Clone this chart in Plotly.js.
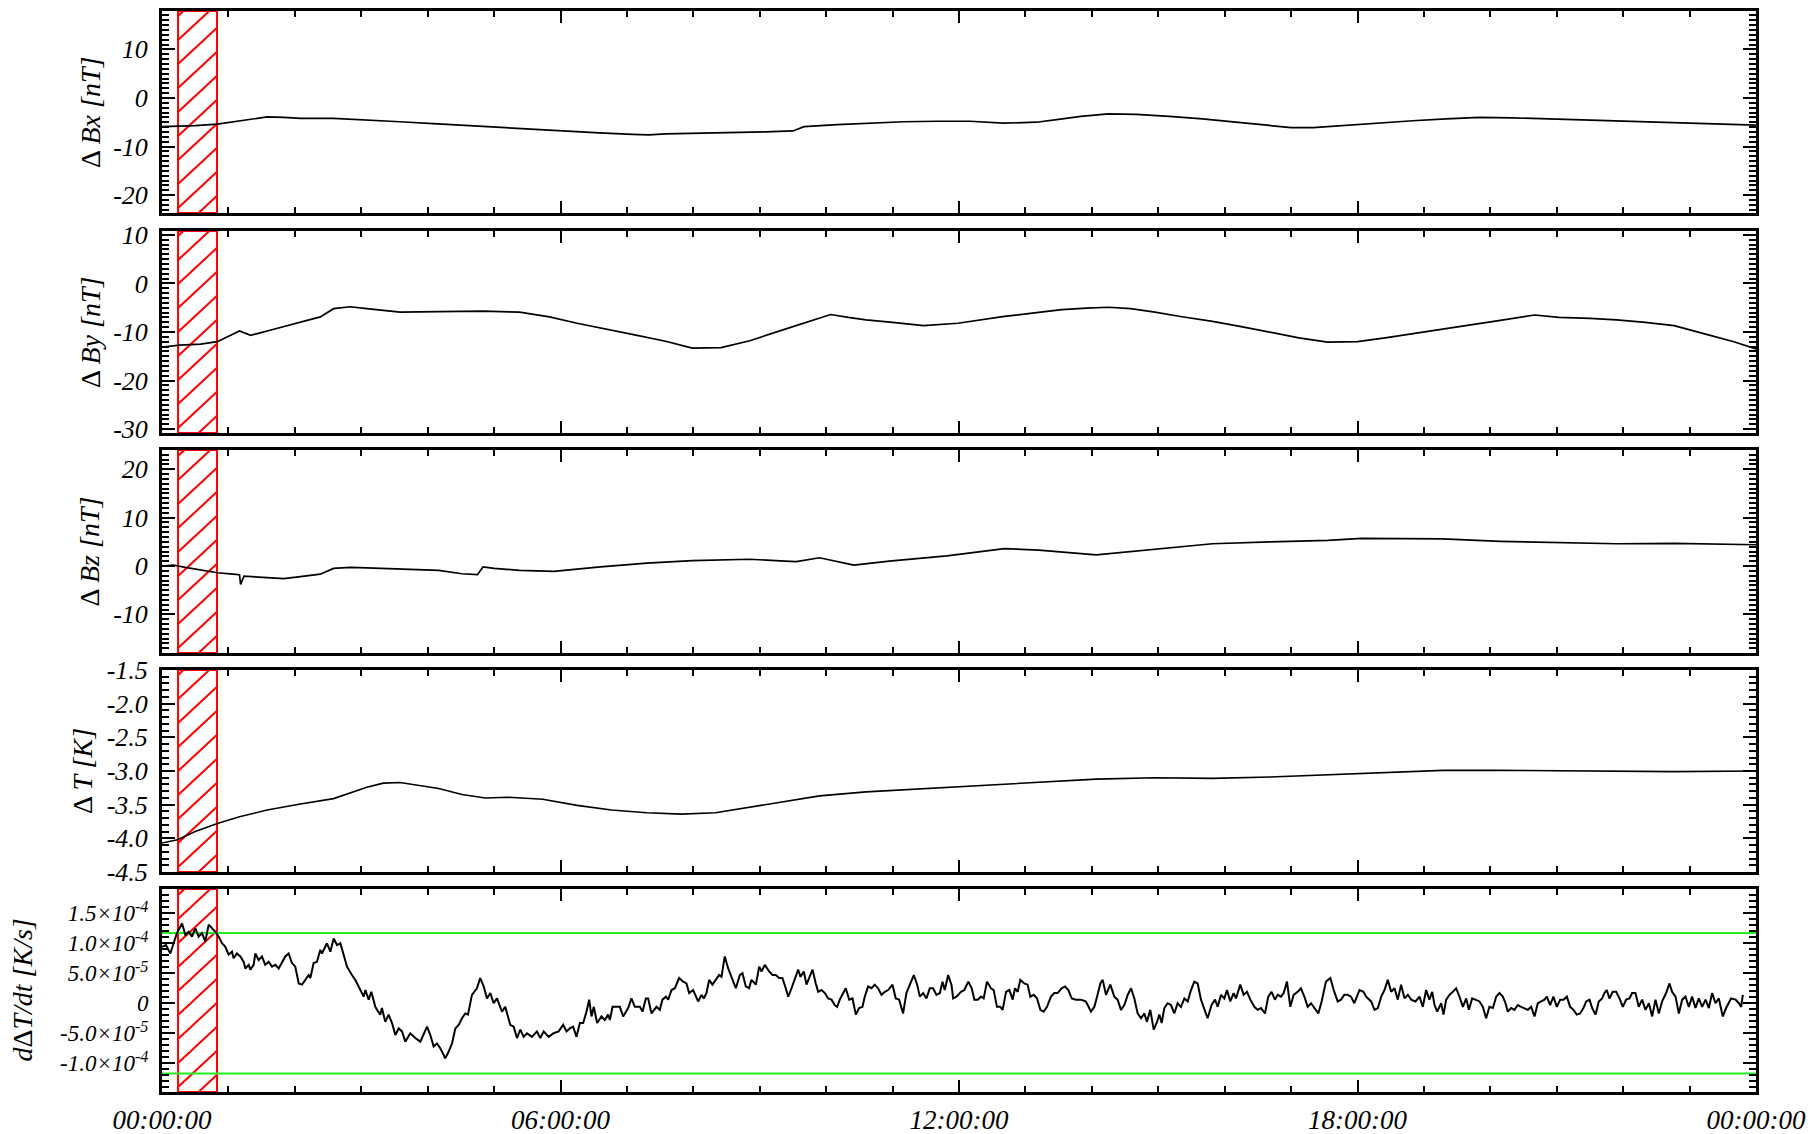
<!DOCTYPE html>
<html>
<head>
<meta charset="utf-8">
<script src="https://cdn.plot.ly/plotly-3.0.1.min.js"></script>
<style>
  html, body { margin: 0; padding: 0; background: #ffffff; }
  #chart { width: 1810px; height: 1134px; }
</style>
</head>
<body>
<div id="chart"></div>
<script>
// ---------------- DATA (time in minutes of day) ----------------
const xTickVals = [0, 360, 720, 1080, 1440];
const xTickText = ['00:00:00', '06:00:00', '12:00:00', '18:00:00', '00:00:00'];

// highlighted (hatched) time window [start, end] in minutes
const hatchWindow = [14.5, 49.7];

// thresholds for dT/dt (units of 1e-5 K/s)
const thresholds = [11.7, -11.7];

// Delta Bx [nT]
const bxT = [0,15,30,50,65,80,95,110,125,155,185,215,245,275,305,335,365,395,425,440,455,485,515,545,570,580,610,640,670,700,730,760,790,810,830,855,880,910,940,970,1000,1020,1040,1070,1100,1130,1160,1190,1220,1250,1280,1310,1340,1370,1400,1440];
const bxV = [-5.9,-5.8,-5.7,-5.4,-4.9,-4.4,-3.9,-4.0,-4.2,-4.2,-4.5,-4.9,-5.3,-5.7,-6.1,-6.5,-6.9,-7.2,-7.5,-7.6,-7.4,-7.3,-7.2,-7.0,-6.8,-5.9,-5.5,-5.2,-4.9,-4.8,-4.8,-5.2,-5.0,-4.4,-3.8,-3.3,-3.4,-3.8,-4.3,-5.0,-5.7,-6.1,-6.1,-5.6,-5.1,-4.7,-4.3,-4.0,-4.1,-4.3,-4.5,-4.7,-4.9,-5.1,-5.3,-5.6];
const bxTickVals = [10, 0, -10, -20];
const bxTickText = ['10', '0', '-10', '-20'];

// Delta By [nT]
const byT = [0,16,35,50,70,80,95,115,130,143,155,170,185,215,250,290,323,350,375,400,427,455,479,505,531,563,594,604,620,636,660,688,719,740,761,790,813,835,855,875,897,920,949,975,1001,1027,1053,1080,1105,1130,1157,1183,1209,1240,1262,1290,1314,1340,1366,1397,1420,1440];
const byV = [-13.1,-12.7,-12.5,-12.0,-9.8,-10.7,-9.8,-8.6,-7.6,-6.9,-5.2,-4.8,-5.2,-5.9,-5.8,-5.7,-5.9,-6.9,-8.2,-9.3,-10.6,-11.9,-13.3,-13.2,-11.8,-9.4,-7.2,-6.4,-7.0,-7.5,-8.0,-8.7,-8.2,-7.5,-6.8,-6.0,-5.4,-5.1,-4.9,-5.2,-5.9,-6.8,-7.8,-8.9,-10.1,-11.2,-12.1,-12.0,-11.2,-10.3,-9.4,-8.5,-7.6,-6.5,-7.0,-7.2,-7.5,-8.0,-8.7,-10.6,-12.0,-13.5];
const byTickVals = [10, 0, -10, -20, -30];
const byTickText = ['10', '0', '-10', '-20', '-30'];

// Delta Bz [nT]
const bzT = [0,10,21,33,50,64,70,71,74,95,110,125,143,155,170,185,215,250,271,285,290,300,323,354,396,438,479,531,563,573,594,625,657,709,761,792,844,897,949,1001,1053,1084,1157,1209,1262,1314,1366,1440];
const bzV = [0.0,0.2,-0.3,-0.8,-1.4,-1.7,-1.8,-3.8,-2.1,-2.4,-2.6,-2.2,-1.7,-0.5,-0.3,-0.4,-0.6,-0.9,-1.6,-1.8,-0.2,-0.5,-0.9,-1.1,-0.2,0.6,1.1,1.4,1.0,0.9,1.7,0.2,1.0,2.1,3.6,3.3,2.3,3.5,4.6,5.0,5.3,5.7,5.6,5.1,4.8,4.6,4.7,4.4];
const bzTickVals = [20, 10, 0, -10];
const bzTickText = ['20', '10', '0', '-10'];

// Delta T [K]
const tT = [0,14,30,50,70,95,125,155,185,200,215,250,271,292,313,344,375,406,438,469,500,531,563,594,636,688,740,792,844,897,949,1001,1053,1105,1157,1209,1262,1314,1366,1440];
const tV = [-4.07,-4.02,-3.90,-3.78,-3.68,-3.58,-3.49,-3.41,-3.24,-3.18,-3.17,-3.26,-3.35,-3.40,-3.39,-3.42,-3.51,-3.58,-3.62,-3.64,-3.62,-3.54,-3.45,-3.37,-3.31,-3.26,-3.21,-3.16,-3.12,-3.10,-3.11,-3.09,-3.06,-3.03,-2.99,-2.99,-3.00,-3.00,-3.01,-3.00];
const tTickVals = [-1.5, -2.0, -2.5, -3.0, -3.5, -4.0, -4.5];
const tTickText = ['-1.5', '-2.0', '-2.5', '-3.0', '-3.5', '-4.0', '-4.5'];

// dDeltaT/dt (units of 1e-5 K/s)
const dTdtT = [0,3.6,7.5,10.5,13.5,18.1,21.1,24.1,27.1,30.1,33.1,36.1,39.1,42.2,45.2,48.2,51.2,54.2,57.2,60.2,63.2,64.7,67.7,70.8,73.8,75.3,78.3,79.8,82.8,84.3,87.3,90.3,93.3,96.4,99.4,102.4,105.4,108.4,111.4,114.4,117.4,120.4,123.5,126.5,129.5,132.5,134.0,137.0,140.0,143.0,144.5,149.0,152.1,155.1,158.1,161.1,164.1,167.1,171.6,174.6,179.2,182.2,183.7,186.7,189.1,192.7,194.2,197.2,198.7,201.7,204.7,207.8,210.8,213.8,216.8,219.8,224.3,228.8,233.4,239.4,242.4,245.4,248.4,251.4,254.4,255.9,258.9,262.0,265.0,268.0,271.0,274.0,276.4,280.0,284.5,287.5,290.6,293.6,296.6,299.6,302.6,307.1,310.1,314.6,317.7,320.7,323.7,326.7,329.7,334.2,338.7,341.7,344.8,349.3,353.8,358.3,
  362.4,365.4,368.4,371.4,374.5,377.5,380.5,383.5,385.9,388.0,390.1,393.1,397.0,400.0,403.1,404.6,407.0,410.0,413.6,416.6,421.1,424.1,427.1,431.7,434.1,437.1,439.2,442.2,446.7,449.7,452.1,455.2,457.3,460.3,463.3,467.2,470.8,473.8,476.2,479.8,484.4,487.4,489.5,491.9,494.3,497.3,500.3,503.3,505.4,508.4,511.5,514.5,518.4,522.0,524.4,527.4,530.4,532.5,536.5,539.5,541.6,544.6,548.5,551.5,554.5,557.5,560.5,563.5,565.7,568.7,571.7,574.7,576.8,579.8,582.2,584.6,587.7,590.6,592.8,595.8,598.8,601.8,604.8,607.8,609.9,612.3,614.7,617.7,620.8,623.8,626.8,629.8,632.8,634.9,637.9,641.0,643.9,646.9,650.0,653.0,656.0,659.9,662.9,665.9,669.5,672.5,675.6,679.2,682.2,684.6,687.6,690.6,693.6,696.6,699.6,702.7,705.1,707.1,710.2,713.2,714.7,717.7,
  721.8,724.8,728.4,731.5,733.9,736.9,739.9,742.3,745.3,748.9,751.3,754.3,757.3,759.4,762.5,765.5,768.5,770.6,773.0,775.4,779.0,782.0,784.4,787.5,790.5,793.5,796.5,799.5,803.1,806.1,809.1,812.7,815.8,818.8,821.8,825.7,830.2,834.7,839.2,842.3,844.7,847.7,849.8,852.8,856.7,860.3,863.3,866.3,869.4,872.4,875.4,878.4,881.4,884.4,887.4,889.8,892.8,895.9,898.9,901.0,903.1,905.5,908.5,911.5,914.5,917.5,920.5,923.6,926.6,929.6,932.6,935.6,938.6,941.6,944.6,948.2,951.3,953.7,956.7,959.7,962.1,965.1,968.1,970.2,974.1,977.1,980.2,983.2,986.8,989.8,992.8,996.4,999.4,1002.4,1005.4,1007.9,1010.9,1013.3,1016.3,1019.3,1022.3,1025.9,1028.9,1032.0,1035.0,1038.0,1041.0,1044.6,1047.6,1051.5,1055.5,1058.5,1062.1,1065.1,1068.1,1071.1,1074.1,1077.1,
  1081.8,1085.4,1087.8,1090.2,1092.3,1095.4,1098.4,1101.4,1104.4,1107.4,1110.4,1113.4,1116.4,1119.4,1122.5,1125.5,1128.5,1132.4,1136.0,1139.0,1142.0,1145.0,1147.5,1149.6,1152.0,1155.6,1157.7,1160.1,1163.1,1166.1,1169.1,1172.1,1175.2,1178.2,1180.6,1183.6,1186.6,1190.2,1193.2,1196.2,1199.2,1202.3,1205.3,1208.3,1211.3,1213.7,1215.8,1218.8,1221.8,1224.8,1227.8,1230.9,1233.9,1236.9,1239.9,1242.9,1245.9,1248.9,1251.0,1254.0,1257.0,1260.1,1263.1,1266.1,1269.1,1272.1,1275.1,1278.1,1281.1,1284.1,1286.6,1289.6,1292.0,1295.0,1298.0,1301.0,1303.1,1305.2,1307.6,1310.6,1313.7,1316.7,1319.7,1322.7,1325.7,1328.1,1331.1,1334.1,1337.1,1340.2,1343.2,1346.2,1349.2,1352.2,1355.2,1358.8,1361.8,1364.2,1367.3,1370.3,1373.3,1376.3,1379.3,1382.3,1385.3,1388.3,1391.4,1394.4,1397.4,1400.4,1403.4,1406.4,1410.0,1413.0,1417.5,1421.5,1424.5,1426.6,1428.1];
const dTdtV = [9.4,9.7,8.3,10.0,11.7,13.3,11.4,11.9,11.1,12.5,11.1,11.7,10.3,13.1,12.5,11.9,11.1,10.0,9.4,8.1,8.6,7.5,8.3,7.8,6.9,5.8,6.4,5.6,6.4,8.3,7.2,7.8,6.4,6.9,6.1,6.4,5.8,6.7,7.8,8.3,6.7,6.1,3.3,3.1,3.9,4.7,4.2,6.7,6.9,8.9,8.3,10.0,8.6,10.8,9.7,10.0,8.1,6.1,4.7,3.9,2.2,1.1,2.2,0.6,1.9,-0.6,-1.1,-1.9,-0.8,-3.1,-1.9,-3.3,-5.3,-4.2,-4.7,-6.4,-5.0,-5.8,-6.4,-3.9,-5.3,-7.2,-6.7,-7.5,-8.6,-9.2,-8.1,-6.7,-4.2,-3.6,-2.5,-1.7,-1.9,1.4,2.5,4.2,2.8,0.8,1.7,0.0,0.8,-1.4,-0.6,-3.6,-3.9,-5.8,-4.4,-5.6,-5.0,-5.6,-4.7,-5.8,-4.7,-5.6,-5.0,-4.7,
  -3.6,-4.7,-4.2,-3.9,-5.6,-3.3,-3.3,-1.4,0.6,-2.2,-0.6,-3.3,-2.2,-2.8,-1.9,-2.8,-0.6,-0.6,-0.6,-2.2,-0.8,0.8,-0.6,-0.6,-1.4,0.8,0.8,-1.7,-0.6,-1.1,0.6,1.1,0.6,2.2,2.5,4.2,3.6,3.3,1.7,2.2,0.3,1.4,0.8,1.7,3.9,3.1,3.9,4.7,4.4,7.8,5.8,4.2,2.5,4.7,5.0,2.8,2.5,3.9,3.1,6.1,5.3,6.4,5.3,4.7,4.7,4.2,4.2,2.5,1.1,2.5,4.2,5.6,4.4,5.3,3.1,4.2,5.6,3.3,1.9,2.2,1.7,0.8,0.6,-0.3,-0.6,0.6,1.4,2.5,0.6,0.8,-1.9,-0.8,-0.6,1.1,2.8,2.5,3.1,2.5,1.4,1.9,2.2,3.1,0.8,0.6,-1.7,1.7,3.1,4.7,3.1,1.1,1.7,0.8,2.5,2.5,1.4,1.7,3.6,2.2,4.7,3.1,0.8,1.1,
  1.9,2.2,3.6,2.5,0.6,0.6,1.1,0.8,3.6,2.5,2.2,-0.6,-0.6,-1.1,1.9,2.2,0.6,2.5,1.9,3.9,3.3,3.1,1.1,1.4,0.8,-1.1,-1.4,-0.6,1.1,1.7,1.7,2.5,2.8,2.2,0.8,0.6,0.6,0.3,-1.4,-0.6,1.1,3.3,3.9,1.4,3.1,1.1,0.6,-1.1,-0.3,1.4,2.5,0.8,-1.7,-2.5,-1.7,-3.1,-1.1,-4.4,-3.1,-1.9,-3.3,-0.8,0.0,-0.3,-1.7,0.0,-0.6,0.8,0.3,2.2,3.6,3.3,0.6,-0.8,-2.5,-0.3,0.6,-0.6,1.4,0.8,2.2,0.3,1.7,0.8,3.1,1.4,1.9,0.6,-0.6,-1.1,-0.8,-1.7,1.1,1.9,0.6,1.4,1.1,1.7,3.6,-0.6,1.4,1.9,2.5,1.1,-0.6,0.0,-0.8,-1.7,0.3,3.6,4.2,2.2,0.3,0.6,1.4,1.4,1.1,0.0,
  2.2,1.9,1.1,0.6,0.3,-1.1,-0.8,1.1,2.2,3.9,1.9,2.5,0.6,3.1,0.8,1.4,0.6,0.3,1.1,-0.6,2.2,0.6,1.9,-0.3,-1.4,0.0,-1.9,0.6,1.4,1.9,2.5,1.1,-0.6,0.8,-1.1,0.8,0.6,0.3,-0.6,-2.5,-0.6,-0.8,1.1,1.7,1.1,0.0,-1.4,-0.8,-1.1,-0.3,-0.6,-0.8,-1.1,-0.6,-2.2,0.0,0.3,0.6,1.1,-0.3,1.1,-0.6,0.6,0.6,1.1,-0.6,-1.1,-1.9,-1.7,-0.8,0.3,0.6,-0.8,-1.9,0.3,0.8,1.7,2.2,0.8,1.9,1.9,0.8,-0.6,0.6,0.8,1.7,1.7,-0.6,0.6,-1.1,0.0,-2.2,0.6,-1.7,0.3,1.7,3.3,1.9,1.1,-1.7,0.6,1.1,-0.6,1.1,-0.8,0.8,-0.6,0.6,-0.8,1.7,0.0,0.8,-2.2,-0.8,0.8,0.6,0.0,-0.6,1.4];
const dTdtTickVals = [15, 10, 5, 0, -5, -10];
const dTdtTickText = ['1.5×10<sup>-4</sup>', '1.0×10<sup>-4</sup>', '5.0×10<sup>-5</sup>', '0', '-5.0×10<sup>-5</sup>', '-1.0×10<sup>-4</sup>'];

// ---------------- LAYOUT / STYLE ----------------
const FONT = 'Liberation Serif, Times New Roman, serif';
const W_PX = 1810, H_PX = 1134;
const MARGIN = {l: 162, r: 54, t: 11, b: 42, pad: 0};
const PLOT_W = W_PX - MARGIN.l - MARGIN.r;
const PLOT_H = H_PX - MARGIN.t - MARGIN.b;
const HATCH_GAP = 24;     // vertical gap between hatch lines (px)
const HATCH_SLOPE = 0.93; // rise/run of hatch lines (px/px)
const HATCH_PHASE = 5;    // px offset of first hatch line

const panels = [
  {t: bxT, v: bxV, range: [-23.7, 17.9], tv: bxTickVals, tt: bxTickText, minor: 1, dom: [0.8131, 1.0], title: 'Δ <i>Bx [nT]</i>', tx: -0.0452, lw: 1.7, fs: 26},
  {t: byT, v: byV, range: [-30.8, 10.8], tv: byTickVals, tt: byTickText, minor: 1, dom: [0.6096, 0.7965], title: 'Δ <i>By [nT]</i>', tx: -0.0452, lw: 1.7, fs: 26},
  {t: bzT, v: bzV, range: [-18.0, 24.0], tv: bzTickVals, tt: bzTickText, minor: 1, dom: [0.4061, 0.5939], title: 'Δ <i>Bz [nT]</i>', tx: -0.0452, lw: 1.7, fs: 26},
  {t: tT, v: tV, range: [-4.5, -1.5], tv: tTickVals, tt: tTickText, minor: 0.1, dom: [0.2035, 0.3904], title: 'Δ <i>T [K]</i>', tx: -0.0496, lw: 1.6, fs: 26},
  {t: dTdtT, v: dTdtV, range: [-14.8, 19.05], tv: dTdtTickVals, tt: dTdtTickText, minor: 1, dom: [0.0, 0.1878], title: '<i>d</i>Δ<i>T/dt [K/s]</i>', tx: -0.0878, lw: 2, fs: 23}
];

// hatch lines for the highlighted window, computed in pixel space and mapped to data units
function hatchShapes(p, xa, ya) {
  const xSpan = xTickVals[xTickVals.length - 1] - xTickVals[0];
  const sx = PLOT_W / xSpan;
  const H = (p.dom[1] - p.dom[0]) * PLOT_H;
  const sy = H / (p.range[1] - p.range[0]);
  const W = (hatchWindow[1] - hatchWindow[0]) * sx;
  const out = [];
  const cStart = HATCH_PHASE - Math.ceil(HATCH_SLOPE * W / HATCH_GAP + 1) * HATCH_GAP;
  for (let c = cStart; c < H; c += HATCH_GAP) {
    const xs = Math.max(0, -c / HATCH_SLOPE);
    const xe = Math.min(W, (H - c) / HATCH_SLOPE);
    if (xe - xs < 0.5) continue;
    out.push({
      type: 'line', xref: xa, yref: ya, layer: 'below',
      x0: hatchWindow[0] + xs / sx, x1: hatchWindow[0] + xe / sx,
      y0: p.range[0] + (HATCH_SLOPE * xs + c) / sy, y1: p.range[0] + (HATCH_SLOPE * xe + c) / sy,
      line: {color: '#ff0000', width: 2}
    });
  }
  out.push({
    type: 'rect', xref: xa, yref: ya + ' domain', layer: 'below',
    x0: hatchWindow[0], x1: hatchWindow[1], y0: 0, y1: 1,
    line: {color: '#ff0000', width: 2}, fillcolor: 'rgba(0,0,0,0)'
  });
  return out;
}

const traces = [];
const layout = {
  width: W_PX, height: H_PX,
  margin: MARGIN,
  paper_bgcolor: '#ffffff', plot_bgcolor: '#ffffff',
  showlegend: false,
  font: {family: FONT, color: '#000000'},
  annotations: [],
  shapes: []
};

panels.forEach((p, i) => {
  const n = i + 1;
  const xa = 'x' + (n === 1 ? '' : n), ya = 'y' + (n === 1 ? '' : n);
  const xkey = 'xaxis' + (n === 1 ? '' : n), ykey = 'yaxis' + (n === 1 ? '' : n);
  const last = (i === panels.length - 1);

  layout.shapes.push(...hatchShapes(p, xa, ya));

  if (last) {
    thresholds.forEach(th => {
      traces.push({
        x: [xTickVals[0], xTickVals[xTickVals.length - 1]], y: [th, th],
        xaxis: xa, yaxis: ya, type: 'scatter', mode: 'lines',
        line: {color: '#22ee22', width: 2}, hoverinfo: 'skip'
      });
    });
  }

  traces.push({
    x: p.t, y: p.v, xaxis: xa, yaxis: ya, type: 'scatter', mode: 'lines',
    line: {color: '#000000', width: p.lw}, hoverinfo: 'skip'
  });

  layout[xkey] = {
    anchor: ya, domain: [0, 1], range: [0, 1440],
    tickmode: 'array', tickvals: xTickVals, ticktext: xTickText,
    showticklabels: last,
    ticks: 'inside', ticklen: 12, tickwidth: 2, tickcolor: '#000000',
    minor: {tickmode: 'linear', tick0: 0, dtick: 60, ticks: 'inside', ticklen: 6, tickwidth: 2, tickcolor: '#000000', showgrid: false},
    mirror: 'allticks', showline: true, linewidth: 3, linecolor: '#000000',
    showgrid: false, zeroline: false,
    tickfont: {family: FONT, size: 27, color: '#000000', style: 'italic'},
    ticklabelstandoff: 2
  };
  if (n > 1) layout[xkey].matches = 'x';

  layout[ykey] = {
    anchor: xa, domain: p.dom, range: p.range,
    tickmode: 'array', tickvals: p.tv, ticktext: p.tt,
    ticks: 'inside', ticklen: 13, tickwidth: 2, tickcolor: '#000000',
    minor: {tickmode: 'linear', tick0: 0, dtick: p.minor, ticks: 'inside', ticklen: 7, tickwidth: 2, tickcolor: '#000000', showgrid: false},
    mirror: 'allticks', showline: true, linewidth: 3, linecolor: '#000000',
    showgrid: false, zeroline: false,
    tickfont: {family: FONT, size: p.fs, color: '#000000', style: 'italic'},
    ticklabelstandoff: 6
  };

  layout.annotations.push({
    xref: 'paper', yref: 'paper', x: p.tx, y: (p.dom[0] + p.dom[1]) / 2,
    xanchor: 'center', yanchor: 'middle', textangle: -90, showarrow: false,
    text: p.title, font: {family: FONT, size: 28, color: '#000000'}
  });
});

Plotly.newPlot('chart', traces, layout, {displayModeBar: false, staticPlot: true});
</script>
</body>
</html>
